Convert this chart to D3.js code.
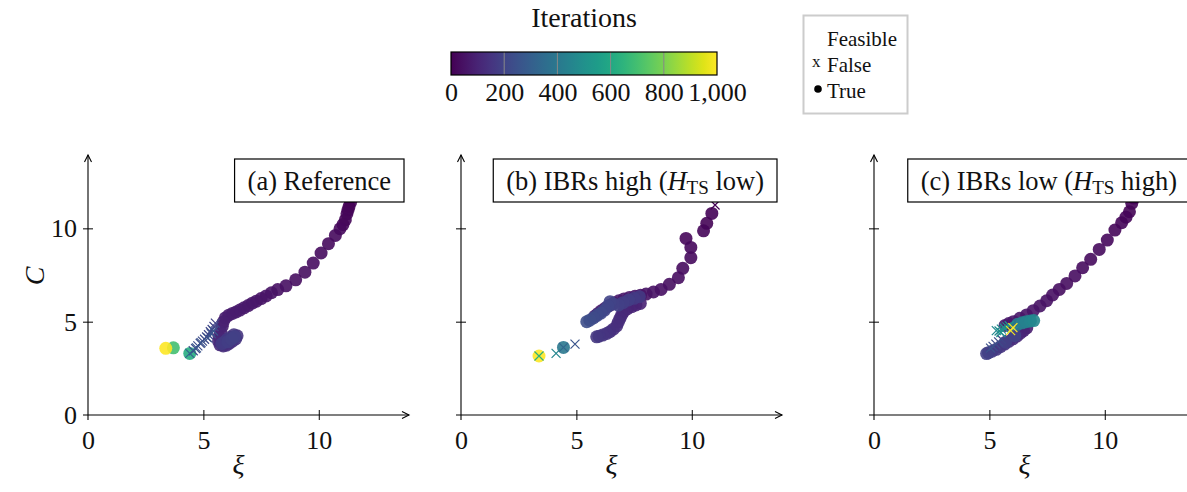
<!DOCTYPE html>
<html>
<head>
<meta charset="utf-8">
<script src="https://cdn.jsdelivr.net/npm/d3@7"></script>
<style>
  body { margin: 0; background: #fff; }
  svg text { font-family: "Liberation Serif", "Times New Roman", serif; fill: #111; }
</style>
</head>
<body>
<svg id="chart" width="1187" height="492"></svg>
<script>
// ---- (a) Reference ----
const refXi   = [11.45,11.38,11.31,11.27,11.22,11.15,11.05,10.92,10.72,10.42,10.10,9.76,9.40,9.00,8.58,8.22,7.95,7.72,7.50,7.30,7.12,6.94,6.76,6.58,6.42,6.26,6.10,5.95,5.86,5.82,
                 5.75,5.68,5.66,5.72,5.86,6.00,6.12,6.26,6.40,6.46,6.32,6.16,6.02,5.90,5.80,6.06,6.22,6.36,
                 5.52,5.46,5.38,5.30,5.22,5.14,5.05,4.96,4.86,4.76,4.66,4.56,5.34,5.20,4.90,5.44,4.70,
                 4.41,4.41,3.70,3.37];
const refC    = [11.70,11.40,11.16,10.98,10.78,10.45,10.20,9.98,9.62,9.18,8.68,8.14,7.65,7.24,6.92,6.72,6.55,6.38,6.24,6.10,5.99,5.86,5.74,5.62,5.52,5.44,5.35,5.20,4.98,4.75,
                 4.45,4.20,3.95,3.76,3.70,3.74,3.84,3.95,4.08,4.24,4.30,4.16,4.04,3.90,3.82,3.92,4.06,4.20,
                 4.92,4.74,4.58,4.46,4.30,4.18,4.06,3.96,3.84,3.70,3.56,3.44,4.36,4.12,3.88,4.50,3.60,
                 3.30,3.30,3.60,3.57];
const refIter = [0,3,6,9,12,15,18,21,24,27,30,33,36,39,42,45,48,51,54,57,60,63,66,69,72,75,78,81,84,87,
                 95,105,115,120,125,130,135,140,145,150,155,160,165,170,175,180,185,190,
                 200,204,208,212,216,220,224,228,232,236,240,244,248,252,256,260,264,
                 330,620,700,1000];
const refFeasible = [1,1,1,1,1,1,1,1,1,1,1,1,1,1,1,1,1,1,1,1,1,1,1,1,1,1,1,1,1,1,
                 1,1,1,1,1,1,1,1,1,1,1,1,1,1,1,1,1,1,
                 0,0,0,0,0,0,0,0,0,0,0,0,0,0,0,0,0,
                 0,1,1,1];

// ---- (b) IBRs high (H_TS low) ----
const highXi   = [11.01,10.87,10.65,10.51,9.75,9.96,9.96,9.61,9.42,9.03,8.67,8.34,8.02,7.78,7.54,7.30,7.06,6.84,6.62,6.42,6.24,6.08,5.94,5.80,
                  7.77,7.58,7.40,7.20,7.04,6.96,6.89,6.82,6.75,6.60,6.45,6.32,6.14,5.98,5.88,
                  7.73,7.50,7.26,7.02,6.82,6.60,6.46,6.36,6.22,6.06,5.90,5.74,5.58,5.45,
                  4.94,4.44,4.44,4.12,3.38,3.38];
const highC    = [11.25,10.80,10.27,9.87,9.46,8.98,8.43,7.86,7.36,7.00,6.73,6.59,6.48,6.42,6.36,6.30,6.22,6.12,6.00,5.86,5.72,5.58,5.44,5.30,
                  5.98,5.90,5.80,5.68,5.53,5.36,5.18,4.98,4.78,4.60,4.46,4.37,4.28,4.22,4.19,
                  6.34,6.25,6.16,6.02,5.89,5.95,6.07,5.82,5.62,5.46,5.34,5.20,5.08,5.00,
                  3.80,3.62,3.62,3.30,3.16,3.16];
const highIter = [0,4,8,12,16,20,24,28,32,36,40,44,48,51,54,57,60,63,66,69,72,75,78,81,
                  90,95,100,105,110,115,120,125,130,135,140,145,150,155,160,
                  170,175,180,185,190,195,200,205,210,215,220,225,230,235,
                  260,330,400,460,640,1000];
const highFeasible = [0,1,1,1,1,1,1,1,1,1,1,1,1,1,1,1,1,1,1,1,1,1,1,1,
                  1,1,1,1,1,1,1,1,1,1,1,1,1,1,1,
                  1,1,1,1,1,1,1,1,1,1,1,1,1,1,
                  0,0,1,0,0,1];

// ---- (c) IBRs low (H_TS high) ----
const lowXi   = [11.32,11.26,11.17,11.07,10.92,10.73,10.44,10.11,9.76,9.39,9.04,8.71,8.35,8.03,7.74,7.48,7.19,6.90,6.61,6.32,6.04,5.84,5.68,
                 6.62,6.48,6.34,6.19,6.02,5.84,5.66,5.48,5.30,5.12,4.96,4.88,5.70,6.10,
                 5.52,5.40,5.28,5.16,5.05,
                 6.22,6.42,6.60,6.78,6.92,
                 5.30,5.42,5.52,5.64,5.76,5.50,5.86,
                 5.92,6.02];
const lowC    = [11.90,11.62,11.34,10.89,10.60,10.30,9.91,9.37,8.87,8.34,7.89,7.45,7.05,6.73,6.43,6.12,5.84,5.59,5.36,5.18,5.00,4.90,4.80,
                 4.66,4.52,4.38,4.22,4.08,3.94,3.80,3.66,3.52,3.42,3.34,3.29,3.90,4.25,
                 4.06,3.92,3.80,3.68,3.58,
                 4.86,4.94,5.00,5.04,5.06,
                 4.52,4.50,4.60,4.66,4.72,4.42,4.78,
                 4.52,4.68];
const lowIter = [0,3,6,9,12,15,18,21,24,27,30,33,36,39,42,45,48,51,54,57,60,63,66,
                 80,90,100,110,120,130,140,150,160,170,180,190,195,200,
                 210,220,230,240,250,
                 420,430,440,450,460,
                 470,480,490,500,505,510,515,
                 980,1000];
const lowFeasible = [1,1,1,1,1,1,1,1,1,1,1,1,1,1,1,1,1,1,1,1,1,1,1,
                 1,1,1,1,1,1,1,1,1,1,1,1,1,1,
                 0,0,0,0,0,
                 1,1,1,1,1,
                 0,0,0,0,0,0,0,
                 0,0];

// axis ticks and colour bar ticks
const axisTicks = [0, 5, 10];
const iterTicks = [0, 200, 400, 600, 800, 1000];
const legendEntries = ["False", "True"];

const panels = [
  { key: "a", xi: refXi,  c: refC,  iter: refIter,  feas: refFeasible,  pre: "(a) Reference", post: null, labels: true },
  { key: "b", xi: highXi, c: highC, iter: highIter, feas: highFeasible, pre: "(b) IBRs high (", post: " low)", labels: false },
  { key: "c", xi: lowXi,  c: lowC,  iter: lowIter,  feas: lowFeasible,  pre: "(c) IBRs low (", post: " high)", labels: false }
];

const svg = d3.select("#chart");
const color = d3.scaleSequential(d3.interpolateViridis).domain([0, 1000]);

const origins = [88, 461, 874];
const axisLen = 321;
const yBase = 415, yTop = 155;
const fontTick = 26;

function arrow(g, x, y, dir) {
  // small open arrow head
  const s = 7, w = 3.5;
  let d;
  if (dir === "right") d = `M${x - s},${y - w} L${x},${y} L${x - s},${y + w}`;
  else d = `M${x - w},${y + s} L${x},${y} L${x + w},${y + s}`;
  g.append("path").attr("d", d).attr("fill", "none").attr("stroke", "#000").attr("stroke-width", 1.1);
}

panels.forEach((p, i) => {
  const x0 = origins[i];
  const x = d3.scaleLinear().domain([0, 13.91]).range([x0, x0 + axisLen]);
  const y = d3.scaleLinear().domain([0, 13.93]).range([yBase, yTop]);
  const g = svg.append("g");

  // axis lines
  g.append("line").attr("x1", x0 - 5).attr("x2", x0 + axisLen).attr("y1", yBase).attr("y2", yBase)
    .attr("stroke", "#000").attr("stroke-width", 1.1);
  g.append("line").attr("x1", x0).attr("x2", x0).attr("y1", yBase + 5).attr("y2", yTop)
    .attr("stroke", "#000").attr("stroke-width", 1.1);
  arrow(g, x0 + axisLen, yBase, "right");
  arrow(g, x0, yTop, "up");

  // x ticks
  const xa = g.append("g").attr("transform", `translate(0,${yBase})`)
    .call(d3.axisBottom(x).tickValues(axisTicks).tickSize(5).tickPadding(10).tickFormat(d3.format("d")));
  xa.select(".domain").remove();
  xa.selectAll(".tick line").attr("y1", -5).attr("y2", 5).attr("stroke", "#000");
  xa.selectAll(".tick").filter(d => d === 0).select("line").remove();
  xa.selectAll(".tick text").attr("font-size", fontTick).attr("font-family", "Liberation Serif").attr("fill", "#111").attr("dy", "0.74em");

  // y ticks
  const ya = g.append("g").attr("transform", `translate(${x0},0)`)
    .call(d3.axisLeft(y).tickValues(axisTicks).tickSize(5).tickPadding(6).tickFormat(p.labels ? d3.format("d") : () => ""));
  ya.select(".domain").remove();
  ya.selectAll(".tick line").attr("x1", -5).attr("x2", 5).attr("stroke", "#000");
  ya.selectAll(".tick").filter(d => d === 0).select("line").remove();
  ya.selectAll(".tick text").attr("font-size", fontTick).attr("font-family", "Liberation Serif").attr("fill", "#111");

  // x label
  g.append("text").attr("x", x0 + axisLen / 2 - 10).attr("y", 474).attr("text-anchor", "middle")
    .attr("font-size", 28).attr("font-style", "italic").text("ξ");

  // points: feasible circles first, infeasible crosses on top, each in iteration order
  const pts = p.xi.map((v, k) => ({ xi: v, c: p.c[k], it: p.iter[k], f: p.feas[k] }));
  const circ = pts.filter(d => d.f === 1).sort((a, b) => a.it - b.it);
  const crs = pts.filter(d => d.f === 0).sort((a, b) => a.it - b.it);

  g.append("g").selectAll("circle").data(circ).join("circle")
    .attr("cx", d => x(d.xi)).attr("cy", d => y(d.c)).attr("r", 6.5)
    .attr("fill", d => color(d.it)).attr("fill-opacity", 0.9);

  const cs = 4.5;
  g.append("g").selectAll("path").data(crs).join("path")
    .attr("d", d => {
      const cx = x(d.xi), cy = y(d.c);
      return `M${cx - cs},${cy - cs}L${cx + cs},${cy + cs}M${cx - cs},${cy + cs}L${cx + cs},${cy - cs}`;
    })
    .attr("stroke", d => color(d.it)).attr("stroke-width", 1.2).attr("fill", "none");

  // title box
  const tg = g.append("g");
  const rect = tg.append("rect").attr("fill", "#fff").attr("stroke", "#000").attr("stroke-width", 1.2);
  const t = tg.append("text").attr("font-size", 26.5).attr("y", 190).attr("x", 0);
  t.append("tspan").text(p.pre);
  if (p.post) {
    t.append("tspan").attr("font-style", "italic").text("H");
    t.append("tspan").attr("font-size", 19).attr("dy", 4).text("TS");
    t.append("tspan").attr("dy", -4).text(p.post);
  }
  const bb = t.node().getBBox();
  const padX = 13;
  const right = x0 + axisLen - 5;
  const boxW = bb.width + 2 * padX;
  t.attr("x", right - boxW + padX);
  rect.attr("x", right - boxW).attr("y", 159).attr("width", boxW).attr("height", 43);
});

// y label
svg.append("text").attr("transform", "translate(44,276) rotate(-90)").attr("text-anchor", "middle")
  .attr("font-size", 28).attr("font-style", "italic").text("C");

// colour bar
const cbX0 = 451, cbX1 = 717, cbY = 52, cbH = 23;
const cbScale = d3.scaleLinear().domain([0, 1000]).range([cbX0, cbX1]);
const defs = svg.append("defs");
const grad = defs.append("linearGradient").attr("id", "viridisGrad").attr("x1", "0%").attr("x2", "100%");
d3.range(0, 1.0001, 0.05).forEach(t => grad.append("stop").attr("offset", `${t * 100}%`).attr("stop-color", d3.interpolateViridis(t)));
svg.append("rect").attr("x", cbX0).attr("y", cbY).attr("width", cbX1 - cbX0).attr("height", cbH).attr("fill", "url(#viridisGrad)");
svg.append("g").selectAll("line").data(iterTicks.slice(1, -1)).join("line")
  .attr("x1", d => cbScale(d)).attr("x2", d => cbScale(d)).attr("y1", cbY).attr("y2", cbY + cbH)
  .attr("stroke", "#888").attr("stroke-width", 1);
svg.append("rect").attr("x", cbX0).attr("y", cbY).attr("width", cbX1 - cbX0).attr("height", cbH)
  .attr("fill", "none").attr("stroke", "#000").attr("stroke-width", 1.2);
const cba = svg.append("g").attr("transform", `translate(0,${cbY + cbH})`)
  .call(d3.axisBottom(cbScale).tickValues(iterTicks).tickSize(0).tickPadding(8).tickFormat(d3.format(",")));
cba.select(".domain").remove();
cba.selectAll(".tick text").attr("font-size", fontTick).attr("font-family", "Liberation Serif").attr("fill", "#111").attr("dy", "0.7em");
svg.append("text").attr("x", (cbX0 + cbX1) / 2).attr("y", 27).attr("text-anchor", "middle").attr("font-size", 28).text("Iterations");

// legend
const lg = svg.append("g");
lg.append("rect").attr("x", 803.5).attr("y", 15.5).attr("width", 104).attr("height", 98)
  .attr("fill", "#fff").attr("stroke", "#ccc").attr("stroke-width", 2);
lg.append("text").attr("x", 827).attr("y", 46).attr("font-size", 21).text("Feasible");
lg.append("text").attr("x", 812).attr("y", 67).attr("font-size", 17).text("x");
lg.append("text").attr("x", 827).attr("y", 72).attr("font-size", 21).text(legendEntries[0]);
lg.append("circle").attr("cx", 818).attr("cy", 89).attr("r", 3.8).attr("fill", "#000");
lg.append("text").attr("x", 827).attr("y", 98).attr("font-size", 21).text(legendEntries[1]);
</script>
</body>
</html>
